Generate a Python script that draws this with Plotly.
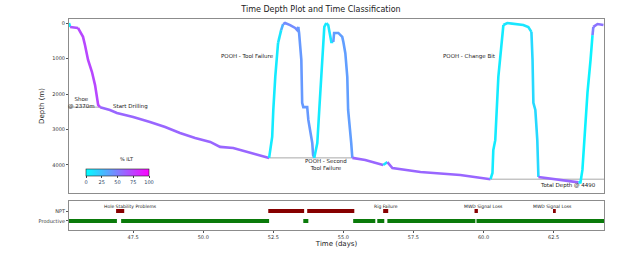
import plotly.graph_objects as go
from plotly.subplots import make_subplots
from plotly.colors import sample_colorscale

# ---------------- data ----------------
time_days = [45.21, 45.25, 45.53, 45.71, 45.78, 45.89, 46.03, 46.14, 46.25, 46.32,
             46.67, 46.92, 47.21, 47.5, 48.1, 48.64, 49.17, 49.71, 50.25, 50.6, 51.07, 51.67, 52.35,
             52.46, 52.5, 52.57, 52.67, 52.78, 52.85, 52.92,
             53.1, 53.28, 53.35, 53.39,
             53.42, 53.5, 53.53, 53.57, 53.71, 53.75, 53.89, 53.92, 53.96,
             54.07, 54.14, 54.21, 54.28, 54.32, 54.39, 54.46, 54.57, 54.64,
             54.67, 54.82, 54.96, 55.0, 55.07, 55.14, 55.17, 55.28, 55.32,
             55.78, 56.42, 56.57, 56.75, 57.75, 59.17, 60.25,
             60.32, 60.35, 60.42, 60.53, 60.67, 60.71,
             60.85, 61.42, 61.6, 61.71,
             61.75, 61.78, 61.85, 61.92, 61.96,
             62.75, 63.39,
             63.46, 63.53, 63.57, 63.64, 63.71, 63.82, 63.89,
             63.92, 64.07, 64.28]
depth_m = [0, 110, 140, 390, 620, 1040, 1380, 1750, 2310, 2370,
           2450, 2535, 2590, 2650, 2790, 2930, 3100, 3240, 3350, 3490, 3520, 3660, 3800,
           3210, 2450, 1520, 560, 200, 30, 0,
           60, 140, 200, 110,
           280, 1040, 2250, 2370, 2370, 2730, 3380, 3720, 3800,
           3380, 2450, 1520, 560, 110, 0, 60, 535, 535,
           280, 280, 390, 535, 850, 1520, 2450, 3380, 3800,
           3860, 4000, 3920, 4085, 4200, 4280, 4400,
           4225, 3580, 3300, 1520, 400, 56,
           0, 56, 113, 250,
           1040, 2250, 2450, 3300, 4340,
           4420, 4490,
           4490, 4140, 3580, 2820, 1970, 1040, 340,
           110, 28, 56]
ilt_pct = [0, 5, 68, 72, 72, 72, 72, 72, 72, 72,
           60, 60, 60, 60, 60, 60, 60, 60, 60, 60, 60, 60, 60,
           8, 8, 8, 8, 10, 30, 45,
           45, 45, 45, 45,
           40, 40, 40, 40, 40, 40, 40, 40, 40,
           8, 8, 8, 8, 8, 8, 10, 10, 10,
           38, 38, 38, 38, 38, 38, 38, 38, 38,
           60, 60, 10, 60, 60, 60, 60,
           8, 8, 8, 8, 8, 8,
           10, 10, 10, 10,
           15, 15, 15, 15, 15,
           60, 60,
           5, 5, 5, 5, 5, 5, 5,
           50, 55, 55]

# reference depth lines (start day, end day, depth)
ref_start = [45.21, 52.35, 60.25]
ref_end = [46.32, 55.32, 64.3]
ref_depth = [2370, 3800, 4400]

# time classification
prod_start = [45.21, 47.07, 53.57, 55.35, 56.21, 56.57, 59.75]
prod_end = [46.92, 52.35, 53.75, 56.14, 56.46, 59.71, 64.31]
npt_start = [46.89, 52.32, 53.71, 56.42, 59.68, 62.48]
npt_end = [47.18, 53.6, 55.39, 56.6, 59.8, 62.58]
npt_labels = ["Hole Stability Problems", "Rig Failure", "MWD Signal Loss", "MWD Signal Loss"]
npt_label_x = [47.39, 56.53, 60.0, 62.46]

top_notes = ["Shoe<br>@ 2370m", "Start Drilling", "POOH - Tool Failure", "POOH - Change Bit",
             "POOH - Second<br>Tool Failure", "Total Depth @ 4490"]
top_note_x = [45.67, 47.39, 51.58, 59.5, 54.39, 63.03]
top_note_y = [2240, 2340, 930, 930, 4000, 4590]

cool = [[0, "#00FFFF"], [1, "#FF00FF"]]
FONT = "DejaVu Sans"

# ---------------- figure ----------------
fig = make_subplots(rows=2, cols=1, shared_xaxes=True, vertical_spacing=0.0)

# reference lines
for xs, xe, d in zip(ref_start, ref_end, ref_depth):
    fig.add_trace(go.Scatter(x=[xs, xe], y=[d, d], mode="lines",
                             line=dict(color="#a8a8a8", width=1), showlegend=False,
                             hoverinfo="skip"), row=1, col=1)

# coloured depth curve: group consecutive segments of equal ILT
i = 0
n = len(time_days)
while i < n - 1:
    val = ilt_pct[i + 1]
    j = i + 1
    while j + 1 < n and ilt_pct[j + 1] == val:
        j += 1
    col = sample_colorscale(cool, [val / 100.0])[0]
    fig.add_trace(go.Scatter(x=time_days[i:j + 1], y=depth_m[i:j + 1], mode="lines",
                             line=dict(color=col, width=2.6), showlegend=False),
                  row=1, col=1)
    i = j

# colorbar carrier
fig.add_trace(go.Scatter(x=[None], y=[None], mode="markers", showlegend=False,
                         marker=dict(color=[0], cmin=0, cmax=100, colorscale=cool,
                                     showscale=True,
                                     colorbar=dict(orientation="h", x=0.0907, xanchor="center",
                                                   y=0.289, yanchor="top", len=0.118,
                                                   lenmode="fraction", thickness=7,
                                                   outlinewidth=0.6, outlinecolor="#222",
                                                   tickvals=[0, 25, 50, 75, 100],
                                                   ticks="outside", ticklen=2,
                                                   tickfont=dict(size=5, family=FONT),
                                                   xpad=0, ypad=0))),
              row=1, col=1)
fig.add_annotation(x=0.0907, y=0.3128, xref="paper", yref="paper", text="% ILT",
                   showarrow=False, font=dict(size=5, family=FONT, color="#222"))

# classification bars
px_, py_ = [], []
for s, e in zip(prod_start, prod_end):
    px_ += [s, e, None]
    py_ += [0, 0, None]
fig.add_trace(go.Scatter(x=px_, y=py_, mode="lines", line=dict(color="#0a7a0a", width=4),
                         showlegend=False), row=2, col=1)
nx_, ny_ = [], []
for s, e in zip(npt_start, npt_end):
    nx_ += [s, e, None]
    ny_ += [1, 1, None]
fig.add_trace(go.Scatter(x=nx_, y=ny_, mode="lines", line=dict(color="#870000", width=4),
                         showlegend=False), row=2, col=1)

# annotations
for t, x, y in zip(top_notes, top_note_x, top_note_y):
    fig.add_annotation(x=x, y=y, xref="x", yref="y", text=t, showarrow=False,
                       font=dict(size=5.5, family=FONT, color="#222"))
for t, x in zip(npt_labels, npt_label_x):
    fig.add_annotation(x=x, y=1.45, xref="x2", yref="y2", text=t, showarrow=False,
                       font=dict(size=4.5, family=FONT, color="#222"))

axis_common = dict(showline=True, linecolor="#8c8c8c", linewidth=1, mirror=True,
                   showgrid=False, zeroline=False, automargin=False)

fig.update_xaxes(range=[45.21, 64.3], **axis_common)
fig.update_xaxes(showticklabels=False, ticks="", row=1, col=1)
fig.update_xaxes(tick0=0, dtick=2.5, tickformat=".1f", ticks="outside", ticklen=2,
                 tickcolor="#555", tickfont=dict(size=5, family=FONT, color="#333"),
                 title=dict(text="Time (days)", font=dict(size=7, family=FONT, color="#222"),
                            standoff=2),
                 row=2, col=1)
fig.update_yaxes(range=[4789, -113], tickvals=[0, 1000, 2000, 3000, 4000], ticks="outside",
                 ticklen=2, tickcolor="#555", tickfont=dict(size=5, family=FONT, color="#333"),
                 title=dict(text="Depth (m)", font=dict(size=7, family=FONT, color="#222"),
                            standoff=6),
                 domain=[0.1754, 1.0], row=1, col=1, **axis_common)
fig.update_yaxes(range=[-0.9, 2.0], tickvals=[0, 1], ticktext=["Productive", "NPT"],
                 ticks="outside", ticklen=2, tickcolor="#555",
                 tickfont=dict(size=5, family=FONT, color="#333"),
                 domain=[0.0, 0.1374], row=2, col=1, **axis_common)

fig.update_layout(
    width=643, height=253,
    margin=dict(l=69, r=39, t=19, b=23, autoexpand=False),
    paper_bgcolor="white", plot_bgcolor="white",
    title=dict(text="Time Depth Plot and Time Classification", x=0.471, xref="paper",
               xanchor="center", y=1 - 9 / 253, yref="container", yanchor="middle",
               font=dict(size=8, family=FONT, color="#222")),
    showlegend=False,
)

fig.write_html("out.html")
